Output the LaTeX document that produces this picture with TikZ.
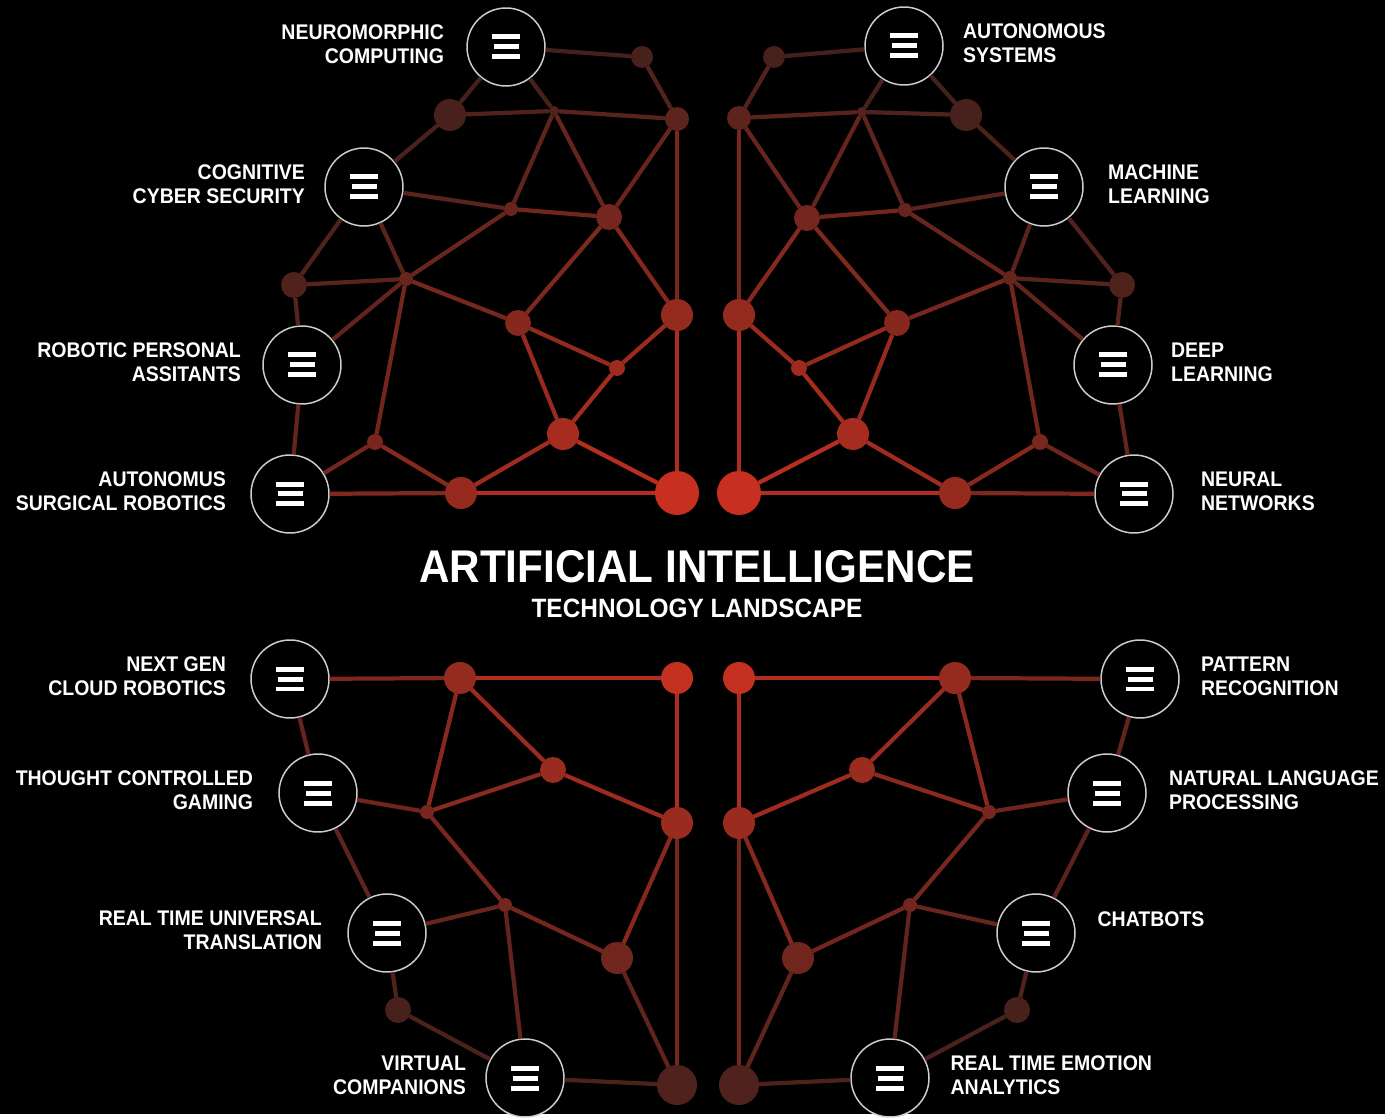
\documentclass[tikz,border=0pt]{standalone}
\usepackage{fontspec}
\setmainfont{Liberation Sans}[FakeStretch=0.92]
\usepackage{tikz}
\usetikzlibrary{positioning,calc}
\definecolor{hot}{RGB}{200,48,32}
\definecolor{cold}{RGB}{62,32,28}
\definecolor{ring}{RGB}{205,205,205}
\tikzset{
  hub/.style={circle, draw=ring, line width=0.85pt, fill=black, minimum size=1.56cm, inner sep=0pt,
    path picture={
      \foreach \dy/\w in {0.2/0.28, 0/0.25, -0.2/0.28}
        \fill[white] ([shift={(-\w cm,\dy cm-0.05cm)}]path picture bounding box.center)
          rectangle ([shift={(\w cm,\dy cm+0.05cm)}]path picture bounding box.center);
    }},
  dot/.style={circle, inner sep=0pt, outer sep=0pt},
  wire/.style={line width=2.4pt},
  tag/.style={text=white, inner sep=0pt, yshift=0.06cm, font=\bfseries\fontsize{12.06}{13.66}\selectfont},
  headline/.style={text=white, inner sep=0pt, font=\bfseries\fontsize{26.1}{30}\selectfont},
  subline/.style={text=white, inner sep=0pt, font=\bfseries\fontsize{15.1}{18}\selectfont}
}
% colour of a link from the midpoint's distance to the centre
\newcommand\wire[2]{%
  \pgfpointanchor{#1}{center}\pgfgetlastxy\ax\ay
  \pgfpointanchor{#2}{center}\pgfgetlastxy\bx\by
  \pgfmathtruncatemacro\heat{max(0,min(100,(570-veclen((\ax+\bx)/1.13811-708,-(\ay+\by)/1.13811-580))/4.8))}
  \draw[wire, hot!\heat!cold] (#1) -- (#2);
}

\begin{document}
\begin{tikzpicture}[x=0.02cm, y=-0.02cm]
  \fill[black] (0,0) rectangle (1385,1114);

  \node[headline] (title) at (697,567) {ARTIFICIAL INTELLIGENCE};
  \node[subline, below=0.3cm of title] (sub) {TECHNOLOGY LANDSCAPE};

  % topics
  \node[hub] (neuro) at (506,47) {};
  \node[hub] (cyber) at (364,187) {};
  \node[hub] (robo) at (302,365) {};
  \node[hub] (surg) at (290,494) {};
  \node[hub] (ausys) at (904,46) {};
  \node[hub] (mlearn) at (1044,187) {};
  \node[hub] (deep) at (1113,365) {};
  \node[hub] (neural) at (1134,494) {};
  \node[hub] (cloud) at (290,679) {};
  \node[hub] (gaming) at (318,793) {};
  \node[hub] (transl) at (387,933) {};
  \node[hub] (virt) at (525,1078) {};
  \node[hub] (pattern) at (1140,679) {};
  \node[hub] (nlp) at (1107,793) {};
  \node[hub] (chat) at (1036,933) {};
  \node[hub] (emotion) at (890,1078) {};

  \node[tag, align=right, left=0.44cm of neuro] {NEUROMORPHIC\\COMPUTING};
  \node[tag, align=right, left=0.38cm of cyber] {COGNITIVE\\CYBER SECURITY};
  \node[tag, align=right, left=0.42cm of robo] {ROBOTIC PERSONAL\\ASSITANTS};
  \node[tag, align=right, left=0.48cm of surg] {AUTONOMUS\\SURGICAL ROBOTICS};
  \node[tag, align=left, right=0.38cm of ausys] {AUTONOMOUS\\SYSTEMS};
  \node[tag, align=left, right=0.48cm of mlearn] {MACHINE\\LEARNING};
  \node[tag, align=left, right=0.36cm of deep] {DEEP\\LEARNING};
  \node[tag, align=left, right=0.54cm of neural] {NEURAL\\NETWORKS};
  \node[tag, align=right, left=0.48cm of cloud] {NEXT GEN\\CLOUD ROBOTICS};
  \node[tag, align=right, left=0.5cm of gaming] {THOUGHT CONTROLLED\\GAMING};
  \node[tag, align=right, left=0.5cm of transl] {REAL TIME UNIVERSAL\\TRANSLATION};
  \node[tag, align=right, left=0.38cm of virt] {VIRTUAL\\COMPANIONS};
  \node[tag, align=left, right=0.42cm of pattern] {PATTERN\\RECOGNITION};
  \node[tag, align=left, right=0.44cm of nlp] {NATURAL LANGUAGE\\PROCESSING};
  \node[tag, align=left, right=0.43cm of chat, yshift=0.21cm] {CHATBOTS};
  \node[tag, align=left, right=0.41cm of emotion] {REAL TIME EMOTION\\ANALYTICS};

  % junctions: name/x/y/radius
  \foreach \n/\x/\y/\r in {
      a1/642/57/11, a2/450/115/16, a3/554/111/5, a4/677/119/12, a5/511/209/7,
      a6/609/217/13, a7/294/285/13, a8/406/279/7, a9/518/323/13, a10/677/315/16,
      a11/617/368/8, a12/563/434/16, a13/375/442/8, a14/461/493/16, a15/677/493/22,
      b1/774/57/11, b2/739/118/12, b3/862/112/5, b4/966/115/16, b5/807/218/13,
      b6/905/210/7, b7/1010/278/7, b8/1122/285/13, b9/739/315/16, b10/897/323/13,
      b11/799/368/8, b12/853/434/16, b13/1040/442/8, b14/955/493/16, b15/739/493/22,
      c1/460/678/16, c2/677/678/16, c3/553/770/13, c4/427/812/7, c5/677/823/16,
      c6/505/905/7, c7/617/958/16, c8/398/1010/13, c9/677/1085/20,
      d1/739/678/16, d2/955/678/16, d3/862/770/13, d4/989/812/7, d5/739/823/16,
      d6/910/905/7, d7/798/958/16, d8/1017/1010/13, d9/739/1085/20} {
    \pgfmathtruncatemacro\heat{max(0,min(100,(570-veclen(\x-708,\y-580))/4.8))}
    \node[dot, minimum size=\r*0.04cm, fill=hot!\heat!cold] (\n) at (\x,\y) {};
  }

  \foreach \a/\b in {
      neuro/a1, a1/a4, neuro/a2, neuro/a3, a2/a3, a3/a4, a2/cyber, a3/a5, a3/a6,
      a4/a6, a4/a10, cyber/a5, a5/a6, cyber/a7, cyber/a8, a5/a8, a7/a8, a6/a9,
      a6/a10, a8/a9, a9/a11, a9/a12, a10/a11, a11/a12, a10/a15, a7/robo, a8/robo,
      a8/a13, robo/surg, a13/surg, a13/a14, surg/a14, a14/a15, a12/a14, a12/a15,
      ausys/b1, b1/b2, ausys/b3, ausys/b4, b2/b3, b3/b4, b4/mlearn, b2/b5, b2/b9,
      b3/b5, b3/b6, b5/b6, b6/mlearn, b6/b7, mlearn/b7, mlearn/b8, b7/b8, b5/b9,
      b5/b10, b7/b10, b7/b13, b7/deep, b8/deep, deep/neural, b9/b11, b9/b15,
      b10/b11, b10/b12, b11/b12, b12/b15, b12/b14, b13/b14, b13/neural, b15/b14,
      b14/neural,
      cloud/c1, c1/c2, c1/c3, c1/c4, c2/c5, c3/c4, c3/c5, cloud/gaming, gaming/c4,
      gaming/transl, c4/c6, c5/c7, c5/c9, transl/c6, c6/c7, c6/virt, c7/c9,
      transl/c8, c8/virt, virt/c9,
      d1/d2, d2/pattern, d1/d5, d2/d3, d2/d4, d3/d5, d3/d4, d4/nlp, pattern/nlp,
      d4/d6, nlp/chat, d5/d7, d5/d9, d7/d6, d7/d9, d6/chat, d6/emotion, chat/d8,
      d8/emotion, d9/emotion}
    \wire{\a}{\b};
\end{tikzpicture}
\end{document}
